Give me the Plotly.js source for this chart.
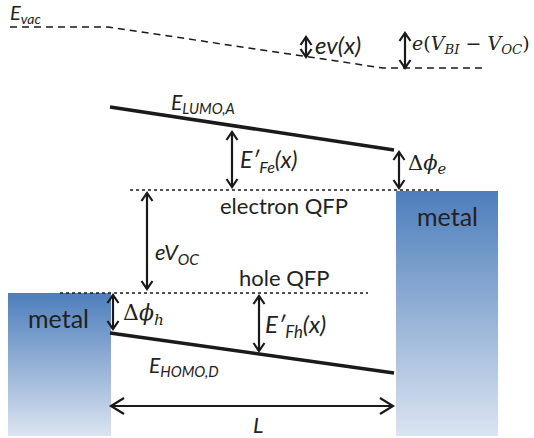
<!DOCTYPE html>
<html>
<head>
<meta charset="utf-8">
<script src="https://cdn.plot.ly/plotly-3.0.1.min.js"></script>
<style>html,body{margin:0;padding:0;background:#fff}#chart{width:534px;height:438px}</style>
</head>
<body>
<div id="chart"></div>
<script>
// Energy-level diagram data (pixel-like diagram coordinates, y grows downward)
const evacX = [10, 108, 383, 487];
const evacY = [27, 27, 68, 68];
const lumoX = [110, 394];
const lumoY = [107, 150];
const homoX = [110, 394];
const homoY = [333, 373];
const electronQfpX = [130, 440];
const electronQfpY = [190, 190];
const holeQfpX = [60, 368];
const holeQfpY = [293, 293];
const metalLeftX = [8, 111];
const metalLeftY = [293, 436];
const metalRightX = [396, 498];
const metalRightY = [191, 436];
// vertical double arrows: x, top, bottom
const vArrowX   = [306, 405, 232, 399, 147, 113, 259];
const vArrowTop = [37, 33, 132, 152, 193, 295, 296];
const vArrowBot = [57, 68, 187, 188, 289, 329, 351];
// horizontal double arrow (L)
const hArrowX = [111, 393];
const hArrowY = [406, 406];

const labelText = [
  "<i>E<sub>vac</sub></i>",
  "<i>ev(x)</i>",
  "<i>e</i>(<i>V<sub>BI</sub></i> − <i>V<sub>OC</sub></i>)",
  "<i>E<sub>LUMO,A</sub></i>",
  "<i>E′<sub>Fe</sub>(x)</i>",
  "Δ<i>ϕ<sub>e</sub></i>",
  "electron QFP",
  "metal",
  "<i>eV<sub>OC</sub></i>",
  "hole QFP",
  "metal",
  "Δ<i>ϕ<sub>h</sub></i>",
  "<i>E′<sub>Fh</sub>(x)</i>",
  "<i>E<sub>HOMO,D</sub></i>",
  "<i>L</i>"
];
const labelX = [9, 314, 411, 170, 239, 407, 284, 447, 154, 284, 58, 122, 264, 148, 258];
const labelY = [13, 44, 44, 103, 160, 164, 205, 216, 253, 277, 318, 314, 325, 366, 424];
const labelAnchor = ["left","left","left","left","left","left","center","center","left","center","center","left","left","left","center"];
const labelFamily = ["sans","sans","serif","sans","sans","serif","sans","sans","sans","sans","sans","serif","sans","sans","sans"];
const labelSize = [20, 24, 19, 21, 23, 21, 22, 25, 22, 22, 25, 22, 24, 21, 22];

const ink = "#1a1a1a";
const sansFont = "Lato, 'Liberation Sans', sans-serif";
const serifFont = "'DejaVu Serif', 'Liberation Serif', serif";

const traces = [];

function box(xs, ys) {
  return {
    x: [xs[0], xs[1], xs[1], xs[0], xs[0]],
    y: [ys[0], ys[0], ys[1], ys[1], ys[0]],
    mode: "lines", line: {width: 0, color: "rgba(0,0,0,0)"},
    fill: "toself",
    fillgradient: {type: "vertical", start: ys[0], stop: ys[1],
      colorscale: [[0, "#4d7ebc"], [1, "#dbe4f1"]]},
    hoverinfo: "skip", showlegend: false
  };
}
traces.push(box(metalLeftX, metalLeftY));
traces.push(box(metalRightX, metalRightY));

traces.push({x: evacX, y: evacY, mode: "lines", line: {color: ink, width: 1.5, dash: "7px,5px"}, showlegend: false, hoverinfo: "skip"});
traces.push({x: electronQfpX, y: electronQfpY, mode: "lines", line: {color: ink, width: 1.5, dash: "dot"}, showlegend: false, hoverinfo: "skip"});
traces.push({x: holeQfpX, y: holeQfpY, mode: "lines", line: {color: ink, width: 1.5, dash: "dot"}, showlegend: false, hoverinfo: "skip"});
traces.push({x: lumoX, y: lumoY, mode: "lines", line: {color: ink, width: 3.5}, showlegend: false, hoverinfo: "skip"});
traces.push({x: homoX, y: homoY, mode: "lines", line: {color: ink, width: 3.5}, showlegend: false, hoverinfo: "skip"});

// arrows
const ax = [], ay = [];
const hw = 5.5, hl = 8;
for (let i = 0; i < vArrowX.length; i++) {
  const x = vArrowX[i], t = vArrowTop[i], b = vArrowBot[i];
  ax.push(x, x, null); ay.push(t, b, null);
  ax.push(x - hw, x, x + hw, null); ay.push(t + hl, t, t + hl, null);
  ax.push(x - hw, x, x + hw, null); ay.push(b - hl, b, b - hl, null);
}
{
  const l = hArrowX[0], r = hArrowX[1], y = hArrowY[0];
  const hh = 8, hlen = 13;
  ax.push(l, r, null); ay.push(y, y, null);
  ax.push(l + hlen, l, l + hlen, null); ay.push(y - hh, y, y + hh, null);
  ax.push(r - hlen, r, r - hlen, null); ay.push(y - hh, y, y + hh, null);
}
traces.push({x: ax, y: ay, mode: "lines", line: {color: ink, width: 2.2}, showlegend: false, hoverinfo: "skip", connectgaps: false});

const annotations = labelText.map((t, i) => ({
  x: labelX[i], y: labelY[i], xref: "x", yref: "y",
  text: t, showarrow: false, xanchor: labelAnchor[i], yanchor: "middle",
  borderpad: 0,
  font: {family: labelFamily[i] === "serif" ? serifFont : sansFont, size: labelSize[i], color: "#222"}
}));

const layout = {
  width: 534, height: 438,
  margin: {l: 0, r: 0, t: 0, b: 0},
  paper_bgcolor: "#fff", plot_bgcolor: "#fff",
  xaxis: {range: [0, 534], visible: false, fixedrange: true},
  yaxis: {range: [438, 0], visible: false, fixedrange: true},
  showlegend: false,
  annotations: annotations
};
Plotly.newPlot("chart", traces, layout, {displayModeBar: false, staticPlot: true});
</script>
</body>
</html>
